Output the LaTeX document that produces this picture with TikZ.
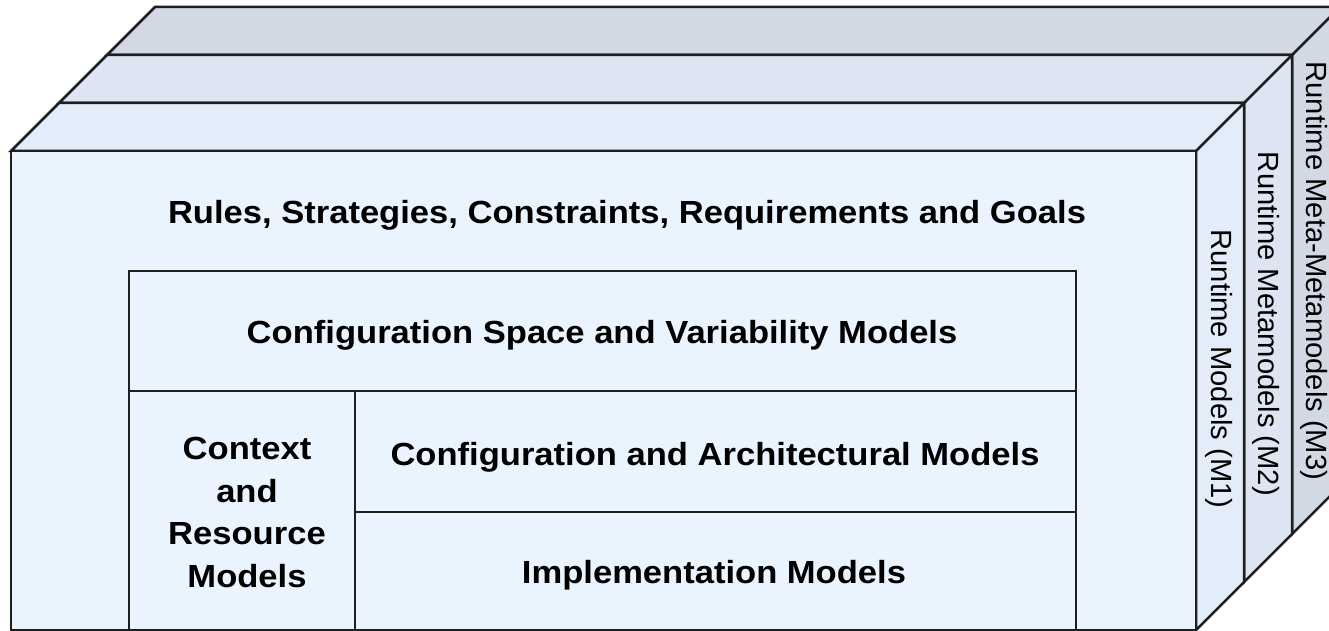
\documentclass[tikz,border=0pt]{standalone}
\usepackage{fontspec}
\setmainfont{Liberation Sans}
\newfontfamily\boldlab[FakeStretch=1.08]{Liberation Sans}
\definecolor{frontc}{RGB}{234,244,255}
\definecolor{topA}{RGB}{227,236,249}
\definecolor{topB}{RGB}{221,229,243}
\definecolor{topC}{RGB}{210,217,229}
\definecolor{linec}{RGB}{30,30,30}
\begin{document}
\begin{tikzpicture}[x=1pt,y=-1pt,
  edge/.style={draw=linec,line width=2.5pt,line join=miter},
  lab/.style={font=\boldlab\bfseries\fontsize{32}{42.5}\selectfont,text=black,inner sep=0pt,anchor=base},
  sidelab/.style={font=\fontsize{29.2}{35}\selectfont,text=black,rotate=-90,inner sep=0pt,anchor=center}]
\useasboundingbox (0,0) rectangle (1329,631);
\clip (0,0) rectangle (1329,631);
% back box (M3)
\filldraw[edge,fill=topC] (107,55) -- (1292,55) -- (1340,7) -- (155,7) -- cycle;
\filldraw[edge,fill=topC] (1292,55) -- (1340,7) -- (1340,486) -- (1292,534) -- cycle;
% middle box (M2)
\filldraw[edge,fill=topB] (59,103) -- (1244,103) -- (1292,55) -- (107,55) -- cycle;
\filldraw[edge,fill=topB] (1244,103) -- (1292,55) -- (1292,534) -- (1244,582) -- cycle;
% front box (M1)
\filldraw[edge,fill=topA] (11,151) -- (1196,151) -- (1244,103) -- (59,103) -- cycle;
\filldraw[edge,fill=topA] (1196,151) -- (1244,103) -- (1244,582) -- (1196,630) -- cycle;
\filldraw[edge,fill=frontc] (11,151) rectangle (1196,630);
% inner boxes
\draw[edge] (129,271) rectangle (1076,630);
\draw[edge] (129,391) -- (1076,391);
\draw[edge] (355,391) -- (355,630);
\draw[edge] (355,512) -- (1076,512);
% labels
\node[lab] (rules) at (627,223) {Rules, Strategies, Constraints, Requirements and Goals};
\node[lab] (cfgspace) at (602,343) {Configuration Space and Variability Models};
\node[lab] (cfgarch) at (715,465) {Configuration and Architectural Models};
\node[lab] (impl) at (714,583) {Implementation Models};
\node[lab,anchor=base,align=center] (ctx) at (247,587) {Context\\and\\Resource\\Models};
\node[sidelab] (m1) at (1219,369) {Runtime Models (M1)};
\node[sidelab] (m2) at (1266,324) {Runtime Metamodels (M2)};
\node[sidelab] (m3) at (1314,271) {Runtime Meta-Metamodels (M3)};
\end{tikzpicture}
\end{document}
